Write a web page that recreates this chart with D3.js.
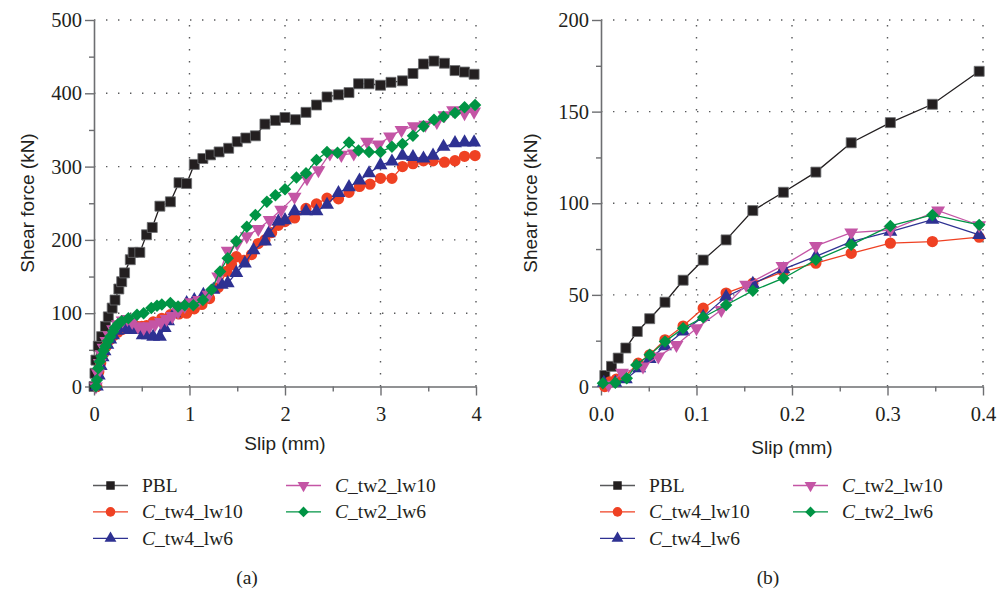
<!DOCTYPE html>
<html>
<head>
<meta charset="utf-8">
<script src="https://cdn.jsdelivr.net/npm/d3@7"></script>
<style>
  body { margin: 0; background: #fff; }
</style>
</head>
<body>
<div id="chart"></div>
<script>
// ---- data ----
const seriesNames = ["PBL", "C_tw4_lw10", "C_tw4_lw6", "C_tw2_lw10", "C_tw2_lw6"];

// panel (a): slip in mm, shear force in kN
const aPblSlip = [0, 0.01, 0.02, 0.045, 0.08, 0.12, 0.15, 0.19, 0.22, 0.26, 0.29, 0.32, 0.38, 0.41, 0.48, 0.55, 0.61, 0.69, 0.80, 0.89, 0.97, 1.05, 1.14, 1.22, 1.31, 1.41, 1.50, 1.59, 1.69, 1.79, 1.90, 2.0, 2.11, 2.22, 2.33, 2.44, 2.56, 2.67, 2.77, 2.88, 3.0, 3.11, 3.23, 3.34, 3.45, 3.56, 3.67, 3.78, 3.88, 3.98];
const aPblForce = [0, 18, 36, 55, 68, 82, 95, 107, 118, 133, 143, 155, 173, 183, 183, 207, 217, 246, 252, 278, 277, 303, 311, 316, 320, 325, 334, 339, 342, 358, 363, 367, 364, 374, 384, 395, 398, 401, 413, 413, 411, 415, 417, 427, 440, 444, 441, 431, 429, 426];

const aTw4Lw10Slip = [0.03, 0.05, 0.07, 0.10, 0.13, 0.17, 0.21, 0.25, 0.30, 0.35, 0.40, 0.45, 0.50, 0.55, 0.62, 0.71, 0.80, 0.89, 0.97, 1.05, 1.13, 1.21, 1.30, 1.39, 1.44, 1.49, 1.57, 1.65, 1.72, 1.79, 1.86, 1.93, 2.0, 2.10, 2.22, 2.33, 2.44, 2.56, 2.67, 2.78, 2.89, 3.0, 3.12, 3.23, 3.34, 3.45, 3.55, 3.67, 3.78, 3.88, 3.99];
const aTw4Lw10Force = [0, 20, 32, 45, 55, 64, 70, 74, 78, 80, 82, 82, 82, 83, 88, 93, 98, 99, 100, 106, 112, 120, 135, 157, 166, 177, 172, 180, 195, 200, 210, 220, 225, 230, 243, 249, 257, 256, 265, 273, 276, 284, 284, 300, 304, 308, 308, 306, 308, 314, 315];

const aTw4Lw6Slip = [0.03, 0.05, 0.07, 0.09, 0.11, 0.14, 0.17, 0.20, 0.24, 0.28, 0.34, 0.37, 0.44, 0.51, 0.565, 0.62, 0.69, 0.74, 0.775, 0.84, 0.97, 1.05, 1.145, 1.25, 1.337, 1.40, 1.49, 1.58, 1.67, 1.79, 1.83, 1.93, 2.0, 2.10, 2.22, 2.33, 2.44, 2.56, 2.67, 2.78, 2.88, 3.0, 3.12, 3.23, 3.34, 3.45, 3.55, 3.66, 3.78, 3.88, 3.98];
const aTw4Lw6Force = [0, 15, 28, 40, 48, 57, 64, 70, 76, 80, 82, 77, 77, 70, 70, 68, 68, 80, 89, 100, 114, 118, 125, 132, 139, 141, 155, 168, 186, 198, 209, 225, 227, 239, 239, 239, 248, 264, 272, 281, 291, 302, 307, 315, 313, 311, 315, 327, 332, 333, 333];

const aTw2Lw10Slip = [0.02, 0.04, 0.06, 0.08, 0.10, 0.13, 0.16, 0.20, 0.25, 0.30, 0.35, 0.40, 0.46, 0.52, 0.58, 0.64, 0.70, 0.76, 0.82, 0.88, 0.95, 1.02, 1.10, 1.20, 1.30, 1.40, 1.50, 1.60, 1.72, 1.84, 1.96, 2.10, 2.23, 2.35, 2.47, 2.59, 2.72, 2.86, 2.98, 3.10, 3.22, 3.35, 3.47, 3.59, 3.67, 3.76, 3.88, 3.98];
const aTw2Lw10Force = [0, 18, 32, 44, 53, 62, 70, 78, 85, 90, 92, 88, 82, 80, 82, 85, 88, 92, 96, 102, 110, 115, 118, 125, 150, 185, 195, 205, 215, 227, 241, 259, 284, 295, 318, 316, 318, 334, 330, 341, 350, 355, 357, 361, 370, 377, 373, 375];

const aTw2Lw6Slip = [0.02, 0.03, 0.045, 0.06, 0.08, 0.10, 0.12, 0.145, 0.17, 0.20, 0.22, 0.25, 0.29, 0.36, 0.45, 0.52, 0.60, 0.66, 0.71, 0.80, 0.88, 0.95, 1.04, 1.14, 1.23, 1.32, 1.40, 1.49, 1.60, 1.69, 1.81, 1.90, 2.0, 2.12, 2.22, 2.33, 2.44, 2.55, 2.67, 2.77, 2.88, 3.0, 3.12, 3.23, 3.34, 3.45, 3.56, 3.66, 3.78, 3.88, 3.99];
const aTw2Lw6Force = [0, 9, 25, 34, 41, 49, 55, 62, 68, 75, 80, 85, 89, 93, 98, 100, 107, 110, 112, 114, 109, 111, 111, 118, 132, 157, 175, 198, 218, 234, 252, 261, 269, 285, 291, 309, 320, 319, 333, 322, 320, 320, 327, 331, 342, 355, 364, 368, 373, 381, 384];

// panel (b): the first 0.4 mm of slip
const bPblSlip = [0.004, 0.011, 0.018, 0.026, 0.038, 0.051, 0.067, 0.086, 0.107, 0.131, 0.159, 0.191, 0.225, 0.262, 0.303, 0.347, 0.396];
const bPblForce = [6, 11, 15.5, 21, 30, 37, 46, 58, 69, 80, 96, 106, 117, 133, 144, 154, 172];

const bTw4Lw10Slip = [0.004, 0.009, 0.016, 0.024, 0.039, 0.051, 0.067, 0.086, 0.107, 0.131, 0.159, 0.191, 0.225, 0.262, 0.303, 0.347, 0.396];
const bTw4Lw10Force = [0, 2.5, 4, 5, 12.7, 17.3, 25.5, 33, 42.7, 51, 56.4, 62.7, 67.3, 72.7, 78.2, 79.1, 81.5];

const bTw4Lw6Slip = [0.003, 0.015, 0.026, 0.04, 0.051, 0.067, 0.086, 0.107, 0.131, 0.159, 0.191, 0.225, 0.262, 0.303, 0.347, 0.396];
const bTw4Lw6Force = [2, 2, 4, 10, 15, 22, 30, 38, 49, 56, 64, 71, 79, 84.5, 91, 82.7];

const bTw2Lw10Slip = [0.008, 0.022, 0.044, 0.06, 0.079, 0.1, 0.126, 0.152, 0.19, 0.225, 0.262, 0.303, 0.353, 0.396];
const bTw2Lw10Force = [1, 7.5, 10.9, 16.4, 22.7, 31.8, 41.8, 55.5, 65.8, 76.7, 84, 85.4, 96, 88];

const bTw2Lw6Slip = [0.002, 0.015, 0.027, 0.037, 0.051, 0.067, 0.086, 0.107, 0.131, 0.159, 0.191, 0.225, 0.262, 0.303, 0.347, 0.396];
const bTw2Lw6Force = [1.8, 2, 4.5, 11.8, 17.3, 24.5, 31.8, 37.8, 44.5, 52.3, 59.1, 69.1, 77.3, 87.6, 93.6, 88.2];

// ticks
const aXTicks = [0, 1, 2, 3, 4];
const aXMinor = [0.5, 1.5, 2.5, 3.5];
const aYTicks = [0, 100, 200, 300, 400, 500];
const aYMinor = [50, 150, 250, 350, 450];
const bXTicks = [0, 0.1, 0.2, 0.3, 0.4];
const bXMinor = [0.05, 0.15, 0.25, 0.35];
const bYTicks = [0, 50, 100, 150, 200];
const bYMinor = [25, 75, 125, 175];

// ---- styles ----
const colors = ["#231f20", "#ef4123", "#2e3192", "#c455a5", "#009444"];
const shapes = ["square", "circle", "up", "down", "diamond"];
const serif = "'Liberation Serif', 'Times New Roman', serif";
const sans = "'Liberation Sans', Arial, sans-serif";
const axisGray = "#6d6e71";

function pageLoad() {

const svg = d3.select("#chart")
  .append("svg")
    .attr("width", 1000)
    .attr("height", 590);

function symbolPath(shape, big) {
  const k = big ? 1 : 0.72;
  if (shape === "square") return d3.symbol(d3.symbolSquare, 100 * k)();
  if (shape === "circle") return d3.symbol(d3.symbolCircle, 100 * k)();
  if (shape === "diamond") return d3.symbol(d3.symbolSquare, 78 * k)();
  return d3.symbol(d3.symbolTriangle, 84 * k)();
}
function symbolTransform(shape, px, py) {
  if (shape === "diamond") return `translate(${px},${py}) rotate(45)`;
  if (shape === "down") return `translate(${px},${py}) rotate(180)`;
  return `translate(${px},${py})`;
}

function drawPanel(p) {
  const x = d3.scaleLinear().domain(p.xDomain).range([p.left, p.right]);
  const y = d3.scaleLinear().domain(p.yDomain).range([386.5, 20]);

  // dotted grid
  const grid = svg.append("g")
    .attr("stroke", "#58595b")
    .attr("stroke-width", 1.4)
    .attr("stroke-dasharray", "1.4,10.6")
    .attr("fill", "none");
  grid.selectAll(".h")
    .data(p.yTicks.filter(v => v > 0))
    .join("line")
      .attr("x1", x(p.xDomain[0]))
      .attr("x2", x(p.xDomain[1]))
      .attr("y1", d => y(d))
      .attr("y2", d => y(d));
  grid.selectAll(".v")
    .data(p.xTicks.filter(v => v > 0))
    .join("line")
      .attr("x1", d => x(d))
      .attr("x2", d => x(d))
      .attr("y1", y(p.yDomain[0]))
      .attr("y2", y(p.yDomain[1]));

  // axes
  const xAxis = svg.append("g")
    .attr("transform", `translate(0,${y(0)})`)
    .call(d3.axisBottom(x).tickValues(p.xTicks).tickFormat(p.xFormat)
      .tickSize(9).tickSizeOuter(0).tickPadding(11));
  svg.append("g")
    .attr("transform", `translate(0,${y(0)})`)
    .call(d3.axisBottom(x).tickValues(p.xMinor).tickFormat("").tickSize(5))
    .call(g => g.select(".domain").remove());
  const yAxis = svg.append("g")
    .attr("transform", `translate(${x(0)},0)`)
    .call(d3.axisLeft(y).tickValues(p.yTicks).tickFormat(d3.format("d"))
      .tickSize(9).tickSizeOuter(0).tickPadding(3));
  svg.append("g")
    .attr("transform", `translate(${x(0)},0)`)
    .call(d3.axisLeft(y).tickValues(p.yMinor).tickFormat("").tickSize(5))
    .call(g => g.select(".domain").remove());

  svg.selectAll(".domain").attr("stroke", axisGray).attr("stroke-width", 1.6);
  svg.selectAll(".tick line").attr("stroke", axisGray).attr("stroke-width", 1.4);
  [xAxis, yAxis].forEach(a => a.selectAll("text")
    .attr("font-family", serif)
    .attr("font-size", 20.5)
    .attr("fill", "#231f20"));

  // axis titles
  svg.append("text")
    .attr("x", (p.left + p.right) / 2)
    .attr("y", p.xTitleY)
    .attr("text-anchor", "middle")
    .attr("font-family", sans)
    .attr("font-size", 19)
    .attr("fill", "#231f20")
    .text("Slip (mm)");
  svg.append("text")
    .attr("transform", `translate(${p.yTitleX},203) rotate(-90)`)
    .attr("text-anchor", "middle")
    .attr("font-family", sans)
    .attr("font-size", 19)
    .attr("fill", "#231f20")
    .text("Shear force (kN)");

  // series
  p.series.forEach((s, i) => {
    const pts = s.slip.map((v, j) => ({ slip: v, force: s.force[j] }));
    svg.append("path")
      .datum(pts)
      .attr("fill", "none")
      .attr("stroke", colors[i])
      .attr("stroke-width", 1.3)
      .attr("d", d3.line()
        .x(function (d) { return x(d.slip) })
        .y(function (d) { return y(d.force) }));
    svg.append("g")
      .selectAll("path")
      .data(pts)
      .join("path")
        .attr("d", symbolPath(shapes[i], true))
        .attr("transform", d => symbolTransform(shapes[i], x(d.slip), y(d.force)))
        .attr("fill", colors[i])
        .attr("stroke", i === 0 ? "#6d6e71" : "none")
        .attr("stroke-width", 0.8);
  });

  // legend
  const legend = svg.append("g");
  seriesNames.forEach((name, i) => {
    const col = i < 3 ? 0 : 1;
    const row = i < 3 ? i : i - 3;
    const lx = col === 0 ? p.left - 1 : p.left + 192;
    const ly = 485.5 + row * 26.4;
    const g = legend.append("g").attr("transform", `translate(${lx},${ly})`);
    g.append("line")
      .attr("x1", 0).attr("x2", 35)
      .attr("stroke", i === 0 ? "#58595b" : colors[i])
      .attr("stroke-width", 1.3);
    g.append("path")
      .attr("d", symbolPath(shapes[i], false))
      .attr("transform", symbolTransform(shapes[i], 17.5, 0))
      .attr("fill", colors[i]);
    const t = g.append("text")
      .attr("x", 49)
      .attr("y", 6.5)
      .attr("font-family", serif)
      .attr("font-size", 19.5)
      .attr("fill", "#231f20");
    if (name.startsWith("C_")) {
      t.append("tspan").attr("font-style", "italic").text("C");
      t.append("tspan").text(name.slice(1));
    } else {
      t.text(name);
    }
  });

  svg.append("text")
    .attr("x", p.labelX)
    .attr("y", 584)
    .attr("text-anchor", "middle")
    .attr("font-family", serif)
    .attr("font-size", 19.5)
    .attr("fill", "#231f20")
    .text(p.label);
}

drawPanel({
  left: 94, right: 476,
  xDomain: [0, 4], yDomain: [0, 500],
  xTicks: aXTicks, xMinor: aXMinor, yTicks: aYTicks, yMinor: aYMinor,
  xFormat: d3.format("d"),
  xTitleY: 450, yTitleX: 34, labelX: 247, label: "(a)",
  series: [
    { slip: aPblSlip, force: aPblForce },
    { slip: aTw4Lw10Slip, force: aTw4Lw10Force },
    { slip: aTw4Lw6Slip, force: aTw4Lw6Force },
    { slip: aTw2Lw10Slip, force: aTw2Lw10Force },
    { slip: aTw2Lw6Slip, force: aTw2Lw6Force }
  ]
});

drawPanel({
  left: 601, right: 983,
  xDomain: [0, 0.4], yDomain: [0, 200],
  xTicks: bXTicks, xMinor: bXMinor, yTicks: bYTicks, yMinor: bYMinor,
  xFormat: d3.format(".1f"),
  xTitleY: 454, yTitleX: 537, labelX: 768, label: "(b)",
  series: [
    { slip: bPblSlip, force: bPblForce },
    { slip: bTw4Lw10Slip, force: bTw4Lw10Force },
    { slip: bTw4Lw6Slip, force: bTw4Lw6Force },
    { slip: bTw2Lw10Slip, force: bTw2Lw10Force },
    { slip: bTw2Lw6Slip, force: bTw2Lw6Force }
  ]
});

};

window.addEventListener("load", pageLoad);
</script>
</body>
</html>
